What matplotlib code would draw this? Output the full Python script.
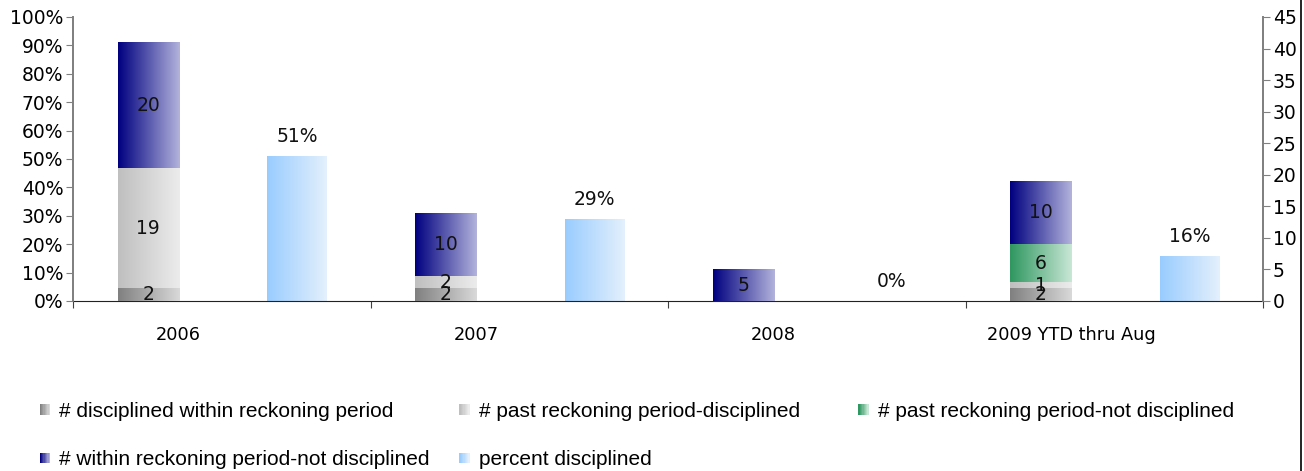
import numpy as np
import matplotlib
matplotlib.use("Agg")
import matplotlib.pyplot as plt
from matplotlib.colors import LinearSegmentedColormap
from matplotlib.legend_handler import HandlerBase
from matplotlib.patches import Rectangle
from matplotlib.lines import Line2D
from matplotlib.ticker import PercentFormatter, MultipleLocator

plt.rcParams['font.family'] = ['DejaVu Sans']

# データ
years = ['2006', '2007', '2008', '2009 YTD thru Aug']
within_disc = [2, 2, 0, 2]       # disciplined within reckoning period
past_disc = [19, 2, 0, 1]        # past reckoning period - disciplined
past_not_disc = [0, 0, 0, 6]     # past reckoning period - not disciplined
within_not_disc = [20, 10, 5, 10]  # within reckoning period - not disciplined
pct_disc = [0.51, 0.29, 0.0, 0.16]

series_names = ['# disciplined within reckoning period',
                '# past reckoning period-disciplined',
                '# past reckoning period-not disciplined',
                '# within reckoning period-not disciplined',
                'percent disciplined']

# 左端の色 -> 右端の色（横方向グラデーション）
grad_colors = [('#808080', '#d9d9d9'),
               ('#bfbfbf', '#ececec'),
               ('#2f9760', '#c9e7d6'),
               ('#000080', '#b3b3dc'),
               ('#99ccff', '#e4f0fc')]
cmaps = [LinearSegmentedColormap.from_list(f'g{i}', c) for i, c in enumerate(grad_colors)]
grad = np.linspace(0, 1, 256).reshape(1, -1)


def fill_gradient(ax, bars, cmap, z):
    # 棒の矩形をグラデーション画像で塗る
    for b in bars:
        h = b.get_height()
        if h <= 0:
            continue
        x, y, w = b.get_x(), b.get_y(), b.get_width()
        im = ax.imshow(grad, extent=[x, x + w, y, y + h], aspect='auto',
                       cmap=cmap, interpolation='bicubic', zorder=z)
        im.set_clip_path(b)


class GradientHandler(HandlerBase):
    def __init__(self, cmap):
        super().__init__()
        self.cmap = cmap

    def create_artists(self, legend, orig_handle, xdescent, ydescent,
                       width, height, fontsize, trans):
        n = 8
        size = height * 0.7
        x0 = width - size - xdescent
        y0 = (height - size) / 2 - ydescent
        arts = []
        for k in range(n):
            r = Rectangle((x0 + k * size / n, y0), size / n + 0.3, size,
                          facecolor=self.cmap(k / (n - 1)), edgecolor='none',
                          transform=trans)
            arts.append(r)
        return arts


fig = plt.figure(figsize=(13.04, 4.71), dpi=100)
ax = fig.add_axes([0.056, 0.361, 0.9126, 0.603])
ax2 = ax.twinx()

idx = np.arange(len(years))
w = 0.207
num_fs = 13.5

# 件数の積み上げ棒（右軸）
stack = [within_disc, past_disc, past_not_disc, within_not_disc]
bottom = np.zeros(len(years))
for i, vals in enumerate(stack):
    vals = np.array(vals, dtype=float)
    bars = ax2.bar(idx + 0.253, vals, w, bottom=bottom, color='none',
                   edgecolor='none', zorder=2)
    fill_gradient(ax2, bars, cmaps[i], 2)
    for j, v in enumerate(vals):
        if v > 0:
            ax2.text(idx[j] + 0.253, bottom[j] + v / 2, f'{int(v)}',
                     ha='center', va='center', fontsize=num_fs, color='#111111',
                     zorder=5)
    bottom += vals

# 割合の棒（左軸）
pbars = ax.bar(idx + 0.753, pct_disc, 0.2, color='none', edgecolor='none',
               zorder=2)
fill_gradient(ax, pbars, cmaps[4], 2)
for j, p in enumerate(pct_disc):
    ax.annotate(f'{p:.0%}', (idx[j] + 0.753, p), xytext=(0, 14),
                textcoords='offset points', ha='center', va='center',
                fontsize=num_fs, color='#111111')

ax.set_xlim(0, len(years))
ax.set_ylim(0, 1)
ax2.set_ylim(0, 45)
ax.yaxis.set_major_locator(MultipleLocator(0.1))
ax.yaxis.set_major_formatter(PercentFormatter(1.0, decimals=0))
ax2.yaxis.set_major_locator(MultipleLocator(5))

# x軸：区切りに目盛り、ラベルは別位置
ax.set_xticks(np.arange(len(years) + 1))
ax.set_xticklabels([])
ax.set_xticks(idx + 0.355, minor=True)
ax.set_xticklabels(years, minor=True, fontsize=12.8)
ax.tick_params(axis='x', which='minor', length=0, pad=18)
ax.tick_params(axis='x', which='major', length=5, color='#404040')
ax.tick_params(axis='y', labelsize=num_fs, length=5, color='#808080', pad=2)
ax2.tick_params(axis='y', labelsize=num_fs, length=5, color='#808080', pad=2)

for a in (ax, ax2):
    a.spines['top'].set_visible(False)
    a.spines['left'].set_color('#808080')
    a.spines['right'].set_color('#808080')
    a.spines['left'].set_linewidth(1.3)
    a.spines['right'].set_linewidth(1.3)
    a.spines['bottom'].set_color('#222222')
ax2.spines['bottom'].set_visible(False)

# 凡例（3列をそれぞれ配置）
handles = [Rectangle((0, 0), 1, 1) for _ in series_names]
hmap = {h: GradientHandler(cmaps[i]) for i, h in enumerate(handles)}
columns = [([0, 3], 0.027), ([1, 4], 0.349), ([2], 0.655)]
for items, xpos in columns:
    leg = fig.legend([handles[i] for i in items], [series_names[i] for i in items],
                     handler_map=hmap, loc='upper left', bbox_to_anchor=(xpos, 0.147),
                     frameon=False, prop={'family': 'Liberation Sans', 'size': 15},
                     labelspacing=1.42, handlelength=0.7, handletextpad=0.45,
                     borderaxespad=0, borderpad=0)

# 右端の枠線
fig.add_artist(Line2D([0.998, 0.998], [0, 1], transform=fig.transFigure,
                      color='black', lw=1.2))

fig.savefig('out.png', dpi=100)
